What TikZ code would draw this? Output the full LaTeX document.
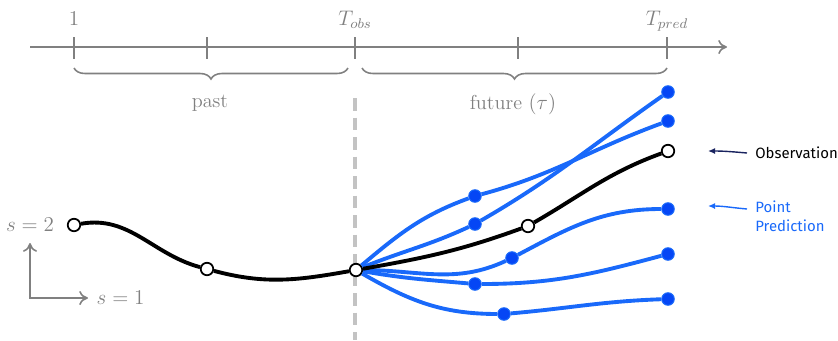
\documentclass[tikz,border=0pt]{standalone}
\usepackage{fontspec}
\newfontfamily\notefont{Fira Sans}
\usetikzlibrary{arrows.meta,positioning,decorations.pathreplacing}
\definecolor{axisgray}{RGB}{128,128,128}
\definecolor{dashgray}{RGB}{195,195,195}
\definecolor{predblue}{RGB}{25,105,250}
\definecolor{dotblue}{RGB}{5,70,245}
\definecolor{obsnavy}{RGB}{25,35,95}
\tikzset{
  obspt/.style={circle,draw=black,fill=white,line width=1pt,minimum size=0.25cm,inner sep=0pt},
  predpt/.style={circle,draw=predblue,fill=dotblue,line width=0.6pt,minimum size=0.25cm,inner sep=0pt},
  obsline/.style={black,line width=2.2pt},
  predline/.style={predblue,line width=2.2pt},
  timelabel/.style={axisgray,anchor=base,font=\fontsize{11.5}{14}\selectfont},
  graytext/.style={axisgray,font=\fontsize{11.5}{14}\selectfont},
  bracestyle/.style={axisgray,line width=0.9pt,decorate,decoration={brace,mirror,amplitude=0.22cm}},
  notetext/.style={anchor=west,font=\notefont\fontsize{8.5}{11}\selectfont,align=left,inner sep=0pt}
}
\begin{document}
\begin{tikzpicture}
\useasboundingbox (0,0) rectangle (16.76,6.8);
% Time axis
\coordinate (axstart) at (0.6,5.86);
\coordinate (axend) at (14.54,5.86);
\draw[axisgray,line width=0.9pt,-{To[length=5pt,width=8pt]}] (axstart) -- (axend);
\foreach \x/\n in {1.48/t1,4.14/t2,7.1/t3,10.36/t4,13.34/t5}
  \draw[axisgray,line width=0.9pt] (\x,6.06) coordinate (\n) -- (\x,5.62);
\node[timelabel] (lab1) at (1.48,6.29) {$1$};
\node[timelabel] (labobs) at (7.1,6.29) {$T_{obs}$};
\node[timelabel] (labpred) at (13.34,6.29) {$T_{pred}$};
% Past / future
\draw[bracestyle] (1.48,5.44) -- (6.96,5.44);
\draw[bracestyle] (7.24,5.44) -- (13.34,5.44);
\node[graytext] (past) at (4.2,4.74) {past};
\node[graytext] (future) at (10.26,4.72) {future $(\tau)$};
\draw[dashgray,line width=1.8pt,dash pattern=on 0.25cm off 0.14cm] (7.1,4.84) -- (7.1,0);
% Observed trajectory
\node[obspt] (p1) at (1.48,2.3) {};
\node[obspt] (p2) at (4.14,1.42) {};
\node[obspt] (p3) at (7.12,1.4) {};
\node[obspt] (p4) at (10.56,2.28) {};
\node[obspt] (p5) at (13.36,3.78) {};
% Predicted points
\node[predpt] (a1) at (9.5,2.88) {};
\node[predpt] (a2) at (13.36,4.38) {};
\node[predpt] (b1) at (9.5,2.32) {};
\node[predpt] (b2) at (13.36,4.96) {};
\node[predpt] (c1) at (10.24,1.64) {};
\node[predpt] (c2) at (13.36,2.62) {};
\node[predpt] (d1) at (9.5,1.12) {};
\node[predpt] (d2) at (13.36,1.72) {};
\node[predpt] (e1) at (10.08,0.52) {};
\node[predpt] (e2) at (13.36,0.82) {};
% Predictions
\draw[predline] (p3) to[out=40,in=200] (a1) to[out=15,in=200] (a2);
\draw[predline] (p3) to[out=22,in=205] (b1) to[out=30,in=215] (b2);
\draw[predline] (p3) to[out=0,in=205] (c1) to[out=28,in=180] (c2);
\draw[predline] (p3) to[out=-10,in=175] (d1) to[out=0,in=195] (d2);
\draw[predline] (p3) to[out=-30,in=180] (e1) to[out=5,in=182] (e2);
% Observation
\draw[obsline] (p1) to[out=10,in=165] (p2) to[out=-15,in=190] (p3);
\draw[obsline] (p3) to[out=10,in=200] (p4) to[out=30,in=200] (p5);
% Legend
\node[notetext] (obstext) at (15.1,3.74) {Observation};
\node[notetext,text=predblue] (predtext) at (15.1,2.48) {Point\\Prediction};
\coordinate (obshead) at (14.16,3.78);
\coordinate (predhead) at (14.16,2.68);
\draw[obsnavy,line width=0.8pt,-{Latex[length=4pt,width=3.5pt]}] ([xshift=-0.16cm]obstext.west) to[out=175,in=0] (obshead);
\draw[predblue,line width=0.8pt,-{Latex[length=4pt,width=3.5pt]}] ([xshift=-0.16cm,yshift=0.14cm]predtext.west) to[out=175,in=0] (predhead);
% Space axes
\coordinate (sorig) at (0.6,0.84);
\coordinate (sup2) at (0.6,1.94);
\coordinate (sright) at (1.76,0.84);
\draw[axisgray,line width=0.9pt,{To[length=5pt,width=8pt]}-{To[length=5pt,width=8pt]}] (sup2) -- (sorig) -- (sright);
\node[graytext] (s2) at (0.6,2.3) {$s=2$};
\node[graytext,right=0.05cm of sright] (s1) {$s=1$};
\end{tikzpicture}
\end{document}
